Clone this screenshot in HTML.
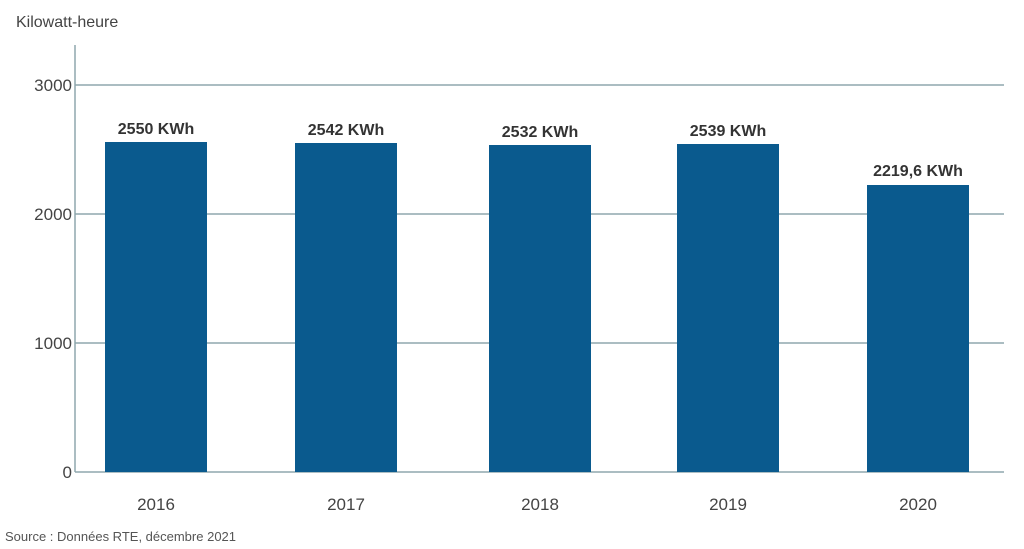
<!DOCTYPE html>
<html><head><meta charset="utf-8"><style>
html,body{margin:0;padding:0;background:#fff;}
svg{display:block;font-family:"Liberation Sans",sans-serif;}
</style></head><body>
<svg width="1024" height="549" viewBox="0 0 1024 549">
<rect width="1024" height="549" fill="#fff"/>
<text x="16" y="27" font-size="16" fill="#444">Kilowatt-heure</text>
<g stroke="#8fa7ad" stroke-width="1.5">
<line x1="75" y1="85" x2="1004" y2="85"/>
<line x1="75" y1="214" x2="1004" y2="214"/>
<line x1="75" y1="343" x2="1004" y2="343"/>
<line x1="75" y1="472" x2="1004" y2="472"/>
<line x1="75" y1="45" x2="75" y2="472"/>
</g>
<g font-size="17" fill="#444" text-anchor="end">
<text x="72" y="91">3000</text>
<text x="72" y="220">2000</text>
<text x="72" y="349">1000</text>
<text x="72" y="478">0</text>
</g>
<g fill="#0a5a8e">
<rect x="105" y="142" width="102" height="330"/>
<rect x="295" y="143" width="102" height="329"/>
<rect x="489" y="145" width="102" height="327"/>
<rect x="677" y="144" width="102" height="328"/>
<rect x="867" y="185" width="102" height="287"/>
</g>
<g font-size="16" font-weight="bold" fill="#333" text-anchor="middle">
<text x="156" y="134">2550 KWh</text>
<text x="346" y="135">2542 KWh</text>
<text x="540" y="137">2532 KWh</text>
<text x="728" y="136">2539 KWh</text>
<text x="918" y="176">2219,6 KWh</text>
</g>
<g font-size="17" fill="#444" text-anchor="middle">
<text x="156" y="510">2016</text>
<text x="346" y="510">2017</text>
<text x="540" y="510">2018</text>
<text x="728" y="510">2019</text>
<text x="918" y="510">2020</text>
</g>
<text x="5" y="541" font-size="13" fill="#555">Source : Données RTE, décembre 2021</text>
</svg>
</body></html>
